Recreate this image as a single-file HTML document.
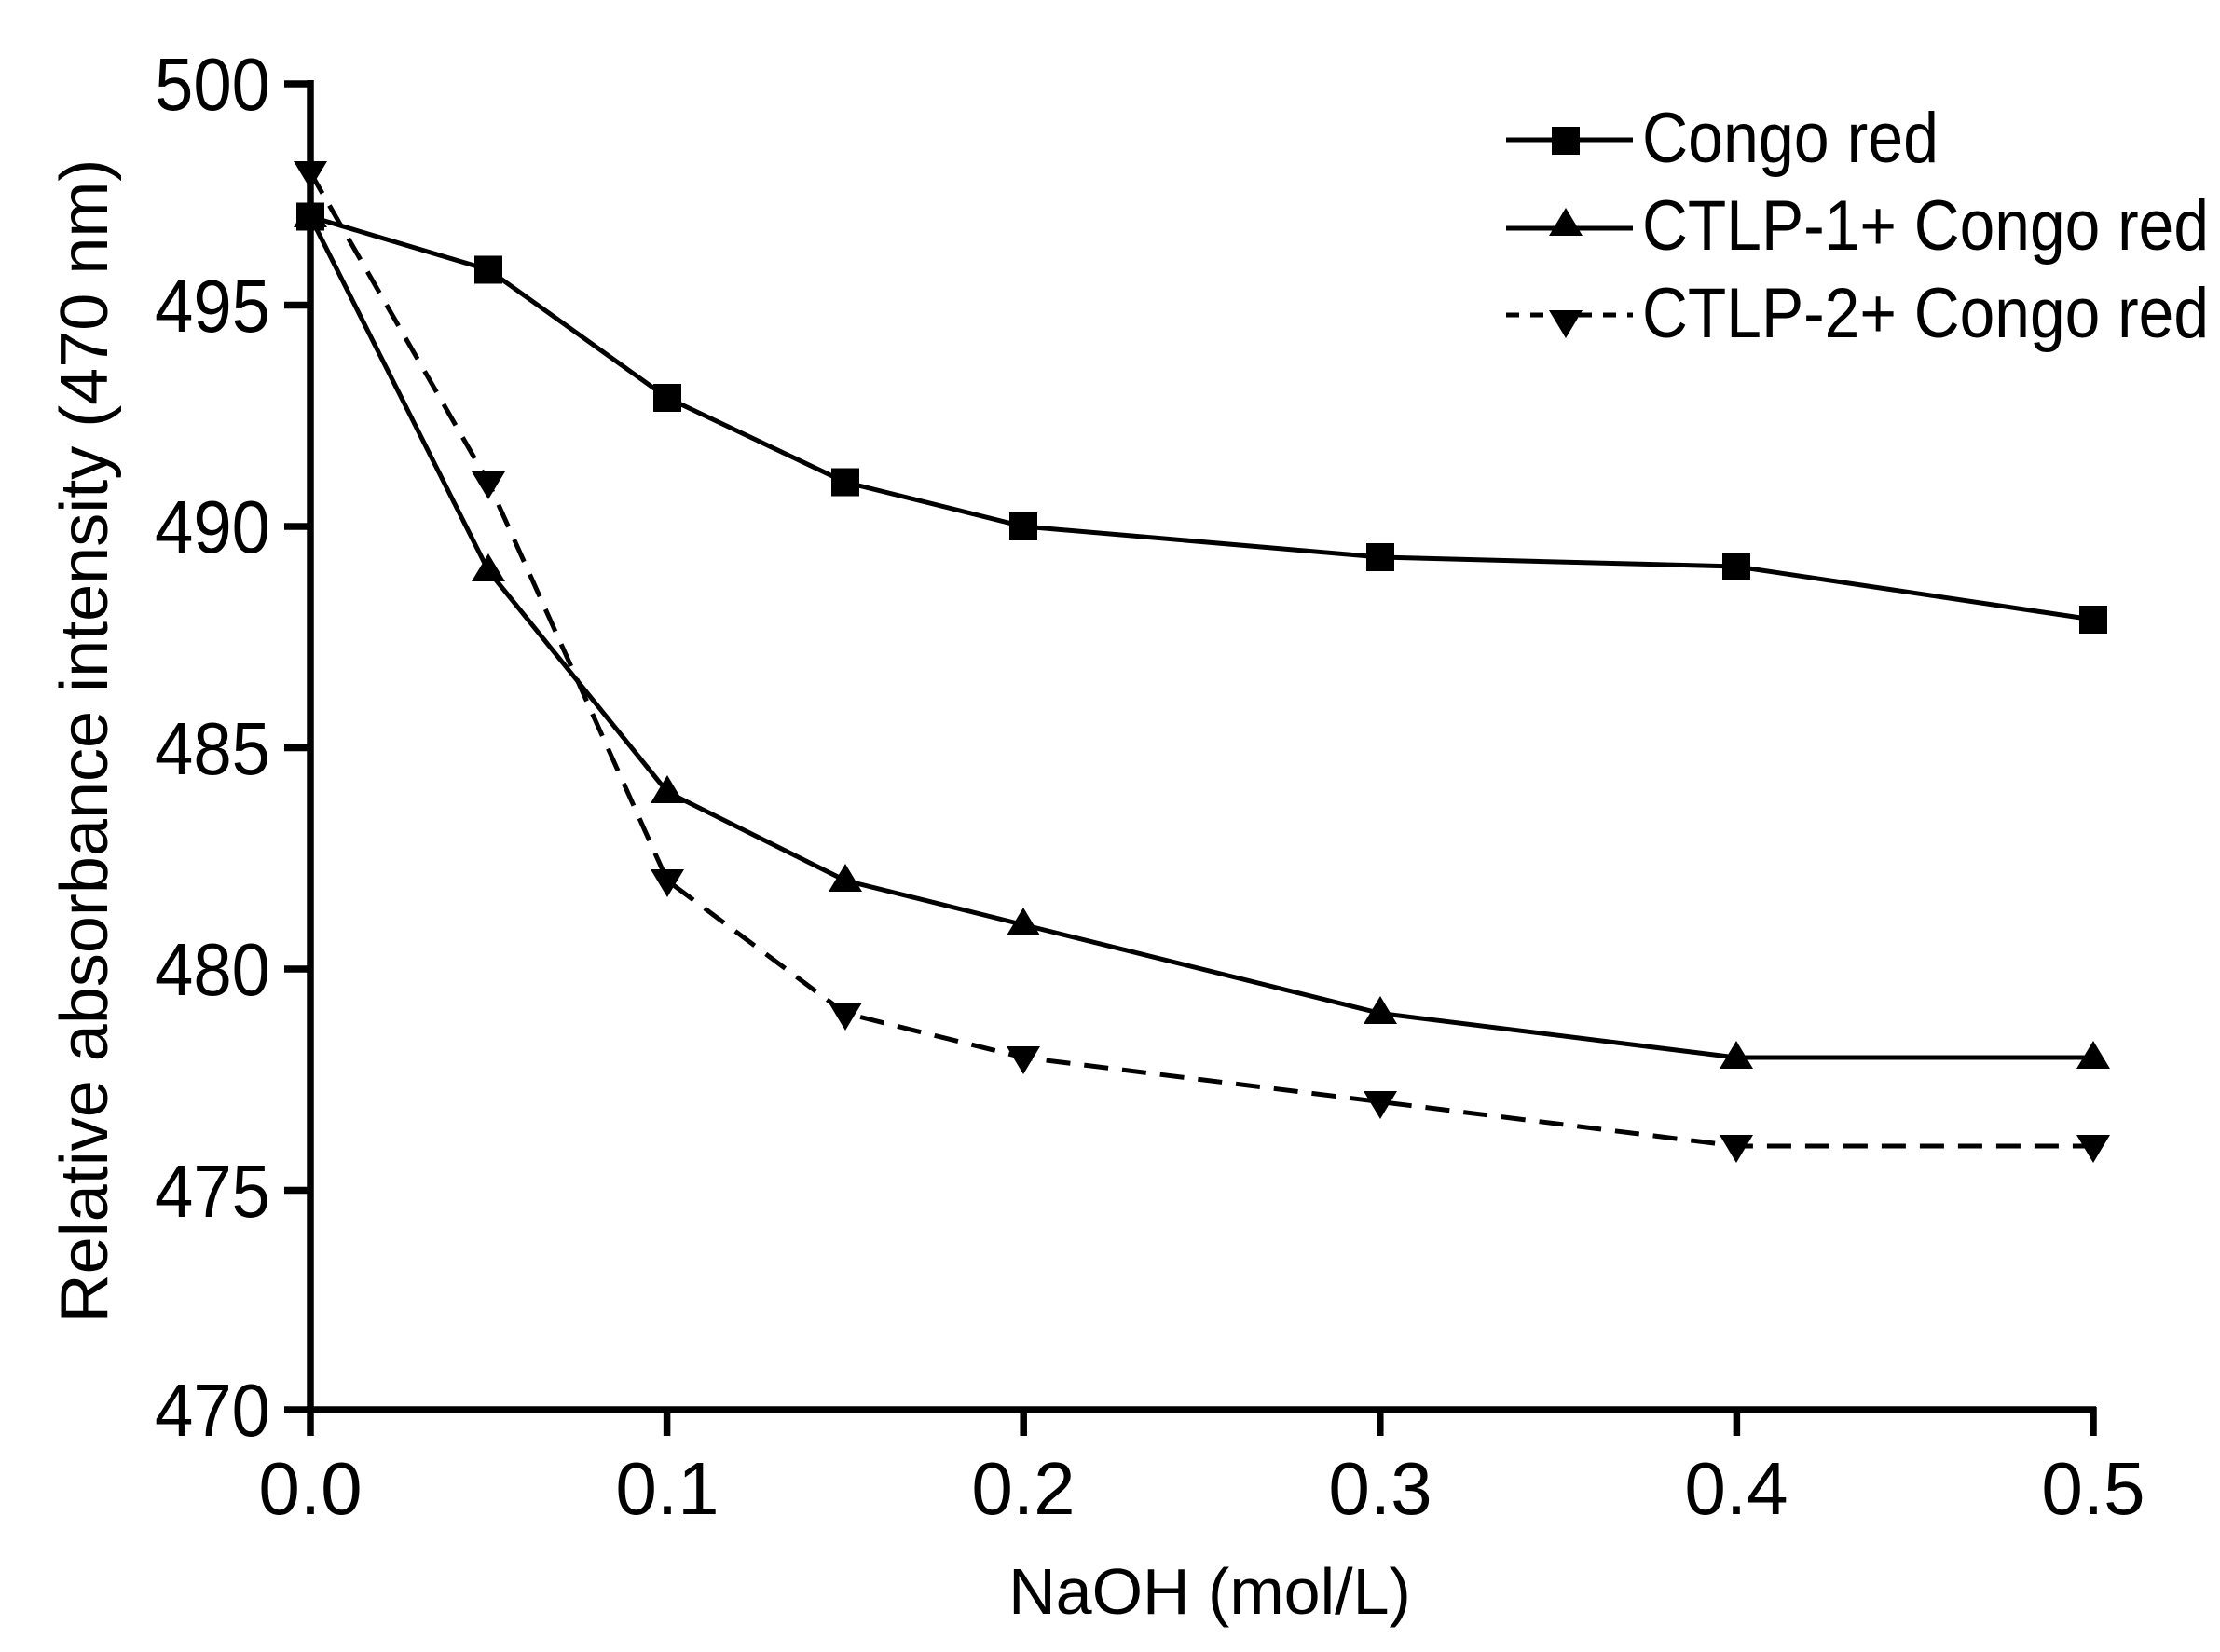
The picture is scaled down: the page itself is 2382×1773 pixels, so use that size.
<!DOCTYPE html>
<html><head><style>body{margin:0;background:#fff}</style></head><body>
<svg width="2382" height="1768" xmlns="http://www.w3.org/2000/svg" font-family="Liberation Sans, Arial, sans-serif">
<rect width="2382" height="1768" fill="#fff"/>
<g stroke="#000" stroke-width="7.5" fill="none">
<line x1="333" y1="86" x2="333" y2="1517"/>
<line x1="330" y1="1513" x2="2249" y2="1513"/>
<path d="M305 90H333M305 327.5H333M305 565H333M305 802.5H333M305 1040H333M305 1277.5H333M305 1513H333"/>
<path d="M333 1513V1541M715.6 1513V1541M1098.2 1513V1541M1480.8 1513V1541M1863.4 1513V1541M2246 1510V1541"/>
</g>
<g font-size="80" text-anchor="end" fill="#000">
<text x="290" y="118" textLength="124" lengthAdjust="spacingAndGlyphs">500</text>
<text x="290" y="356" textLength="124" lengthAdjust="spacingAndGlyphs">495</text>
<text x="290" y="593" textLength="124" lengthAdjust="spacingAndGlyphs">490</text>
<text x="290" y="831" textLength="124" lengthAdjust="spacingAndGlyphs">485</text>
<text x="290" y="1068" textLength="124" lengthAdjust="spacingAndGlyphs">480</text>
<text x="290" y="1306" textLength="124" lengthAdjust="spacingAndGlyphs">475</text>
<text x="290" y="1541" textLength="124" lengthAdjust="spacingAndGlyphs">470</text>
</g>
<g font-size="80" text-anchor="middle" fill="#000">
<text x="333" y="1625">0.0</text><text x="716" y="1625">0.1</text><text x="1098" y="1625">0.2</text>
<text x="1481" y="1625">0.3</text><text x="1863" y="1625">0.4</text><text x="2246" y="1625">0.5</text>
<text x="1298" y="1732" font-size="70">NaOH (mol/L)</text>
<text transform="translate(115,795) rotate(-90)" font-size="72">Relative absorbance intensity (470 nm)</text>
</g>
<g stroke="#000" stroke-width="5" fill="none">
<polyline points="333,232.5 524,289.5 716,427 907,517.5 1098,565 1481,598 1863,608 2246,665"/>
<polyline points="333,232.5 524,612.5 716,850 907,945 1098,992.5 1481,1087.5 1863,1135 2246,1135"/>
<polyline stroke-dasharray="26,15" points="333,185 524,517.5 716,945 907,1087.5 1098,1135 1481,1182.5 1863,1230 2246,1230"/>
</g>
<g fill="#000">
<rect x="318" y="217.5" width="30" height="30"/><rect x="509" y="274.5" width="30" height="30"/>
<rect x="701" y="412" width="30" height="30"/><rect x="892" y="502.5" width="30" height="30"/>
<rect x="1083" y="550" width="30" height="30"/><rect x="1466" y="583" width="30" height="30"/>
<rect x="1848" y="593" width="30" height="30"/><rect x="2231" y="650" width="30" height="30"/>
<path d="M333,214l18,30h-36zM524,594l18,30h-36zM716,832l18,30h-36zM907,927l18,30h-36zM1098,974l18,30h-36zM1481,1069l18,30h-36zM1863,1117l18,30h-36zM2246,1117l18,30h-36z"/>
<path d="M333,203l18,-30h-36zM524,536l18,-30h-36zM716,963l18,-30h-36zM907,1106l18,-30h-36zM1098,1153l18,-30h-36zM1481,1201l18,-30h-36zM1863,1248l18,-30h-36zM2246,1248l18,-30h-36z"/>
</g>
<g stroke="#000" stroke-width="5">
<line x1="1616" y1="150" x2="1752" y2="150"/>
<line x1="1616" y1="245" x2="1752" y2="245"/>
<line x1="1616" y1="338" x2="1752" y2="338" stroke-dasharray="14,12"/>
</g>
<g fill="#000">
<rect x="1665" y="136" width="30" height="30"/>
<path d="M1680,223l18,30h-36zM1680,363l18,-30h-36z"/>
</g>
<g font-size="76" fill="#000">
<text x="1762" y="174" textLength="318" lengthAdjust="spacingAndGlyphs">Congo red</text>
<text x="1762" y="268" textLength="608" lengthAdjust="spacingAndGlyphs">CTLP-1+ Congo red</text>
<text x="1762" y="362" textLength="608" lengthAdjust="spacingAndGlyphs">CTLP-2+ Congo red</text>
</g>
</svg>
</body></html>
